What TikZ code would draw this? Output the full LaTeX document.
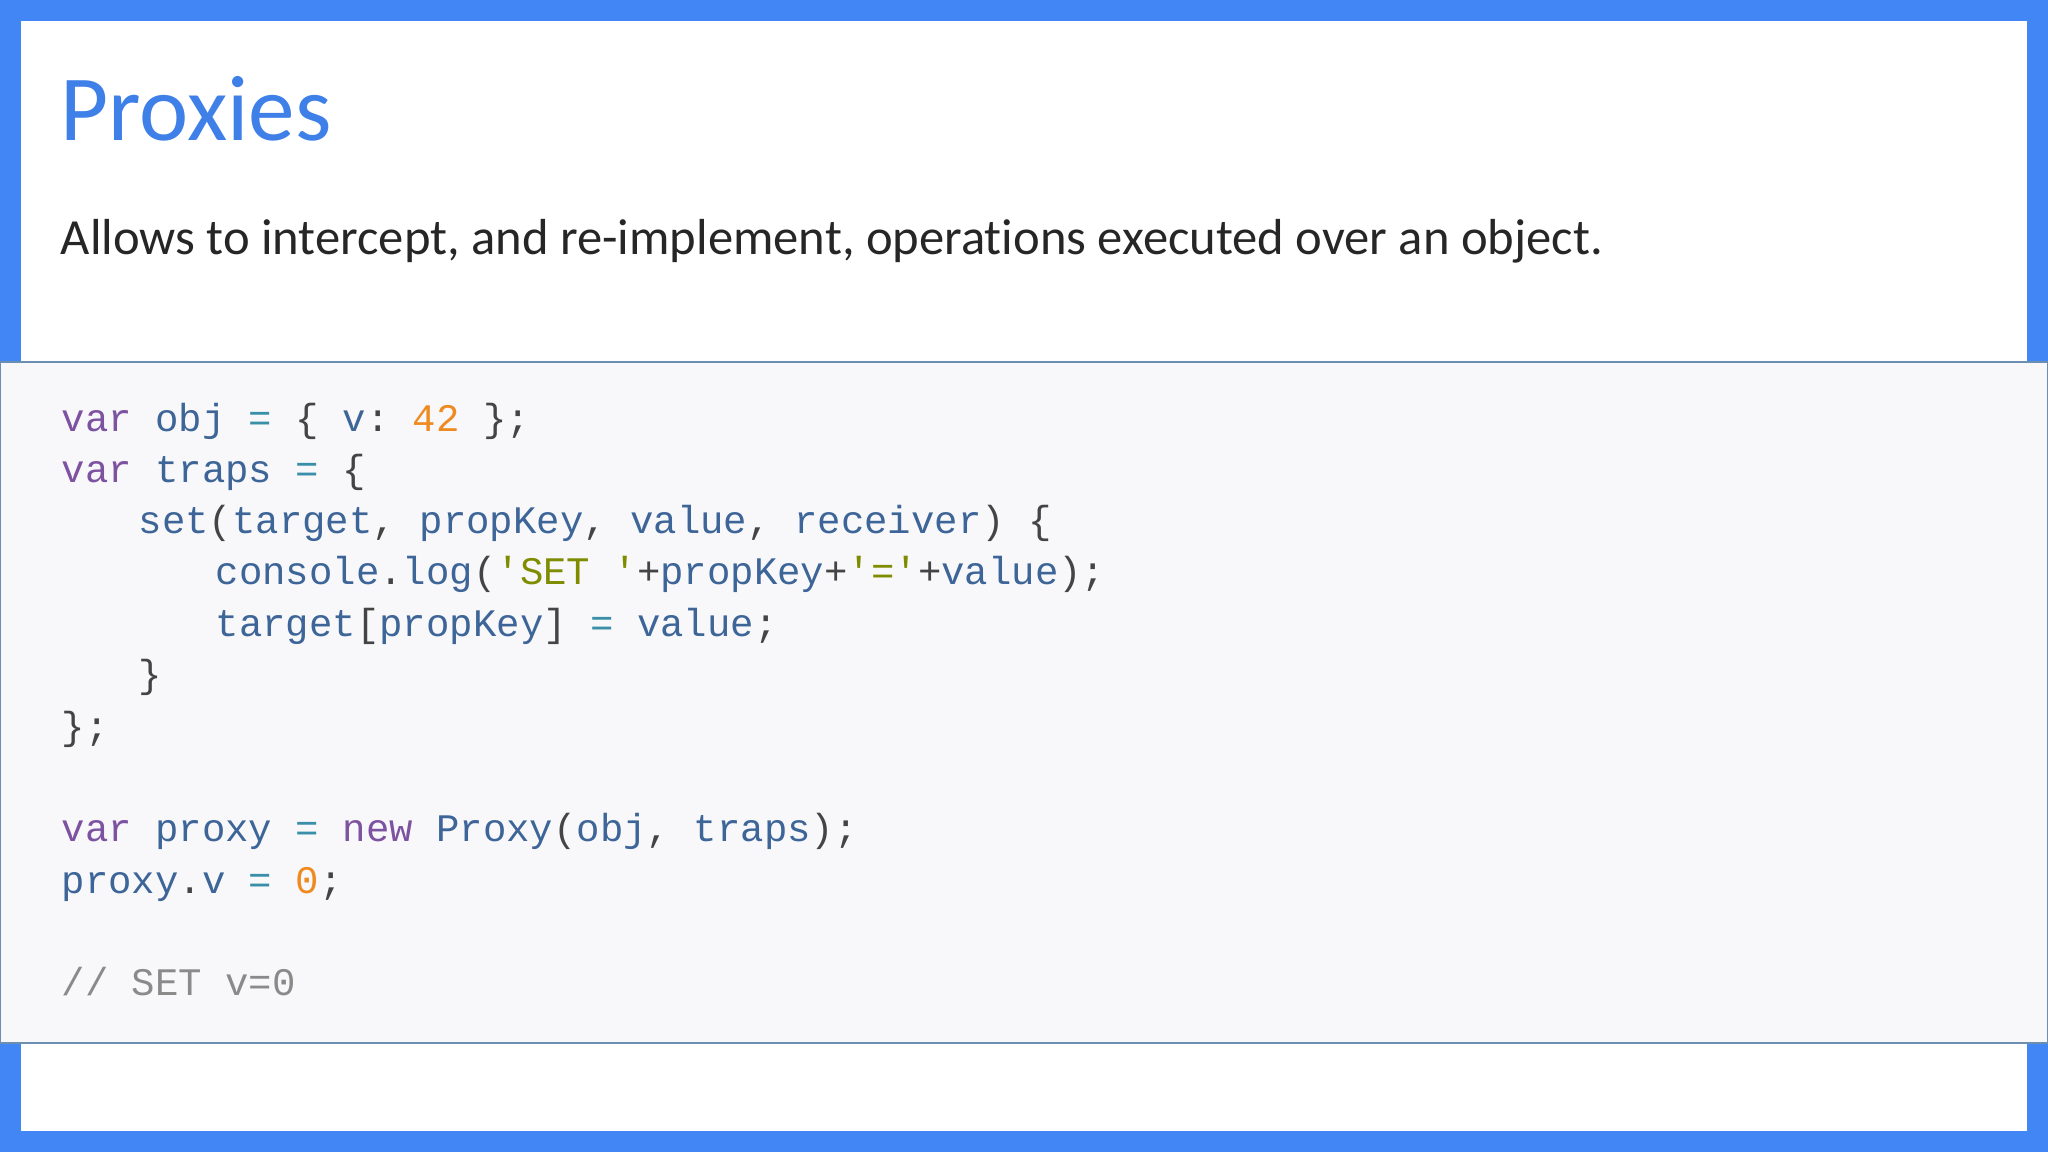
\documentclass[tikz,border=0pt]{standalone}
\usepackage{fontspec}
\setmainfont[Ligatures={NoCommon}]{Carlito}
\setmonofont{Liberation Mono}
\definecolor{frameblue}{HTML}{4285F4}
\definecolor{titleblue}{HTML}{3F7FE8}
\definecolor{codebg}{HTML}{F8F8FA}
\definecolor{codeline}{HTML}{6C8EB0}
\definecolor{kw}{HTML}{7D52A0}
\definecolor{id}{HTML}{3D6598}
\definecolor{num}{HTML}{EE8A20}
\definecolor{str}{HTML}{7F8C00}
\definecolor{op}{HTML}{3A8FA8}
\definecolor{pun}{HTML}{444444}
\definecolor{cmt}{HTML}{8A8A8A}
\newcommand{\K}[1]{\textcolor{kw}{#1}}
\newcommand{\I}[1]{\textcolor{id}{#1}}
\newcommand{\N}[1]{\textcolor{num}{#1}}
\newcommand{\St}[1]{\textcolor{str}{#1}}
\newcommand{\Op}[1]{\textcolor{op}{#1}}
\begin{document}
\begin{tikzpicture}[x=1cm,y=1cm,
  code/.style={anchor=base west,inner sep=0pt,font=\fontsize{11.1pt}{13pt}\ttfamily,text=pun}]
\useasboundingbox (0,0) rectangle (20.48,-11.52);
\fill[frameblue] (0,0) rectangle (20.48,-11.52);
\fill[white] (0.21,-0.21) rectangle (20.27,-11.31);
\filldraw[fill=codebg,draw=codeline,line width=0.8pt] (0,-3.62) rectangle (20.48,-10.43);
\node[anchor=base west,inner sep=0pt,text=titleblue,font=\fontsize{26.5pt}{30pt}\selectfont] (title) at (0.6,-1.41) {Proxies};
\node[anchor=base west,inner sep=0pt,text=black!85,font=\fontsize{14.4pt}{17pt}\selectfont] (sub) at (0.6,-2.55) {Allows to intercept, and re-implement, operations executed over an object.};
\node[code] (l1) at (0.61,-4.32) {\K{var} \I{obj} \Op{=} \{ \I{v}: \N{42} \};};
\node[code] (l2) at (0.61,-4.83) {\K{var} \I{traps} \Op{=} \{};
\node[code] (l3) at (1.38,-5.34) {\I{set}(\I{target}, \I{propKey}, \I{value}, \I{receiver}) \{};
\node[code] (l4) at (2.15,-5.85) {\I{console}.\I{log}(\St{'SET '}+\I{propKey}+\St{'='}+\I{value});};
\node[code] (l5) at (2.15,-6.37) {\I{target}[\I{propKey}] \Op{=} \I{value};};
\node[code] (l6) at (1.38,-6.88) {\}};
\node[code] (l7) at (0.61,-7.39) {\};};
\node[code] (l9) at (0.61,-8.41) {\K{var} \I{proxy} \Op{=} \K{new} \I{Proxy}(\I{obj}, \I{traps});};
\node[code] (l10) at (0.61,-8.93) {\I{proxy}.\I{v} \Op{=} \N{0};};
\node[code,text=cmt] (l12) at (0.61,-9.95) {// SET v=0};
\end{tikzpicture}
\end{document}
